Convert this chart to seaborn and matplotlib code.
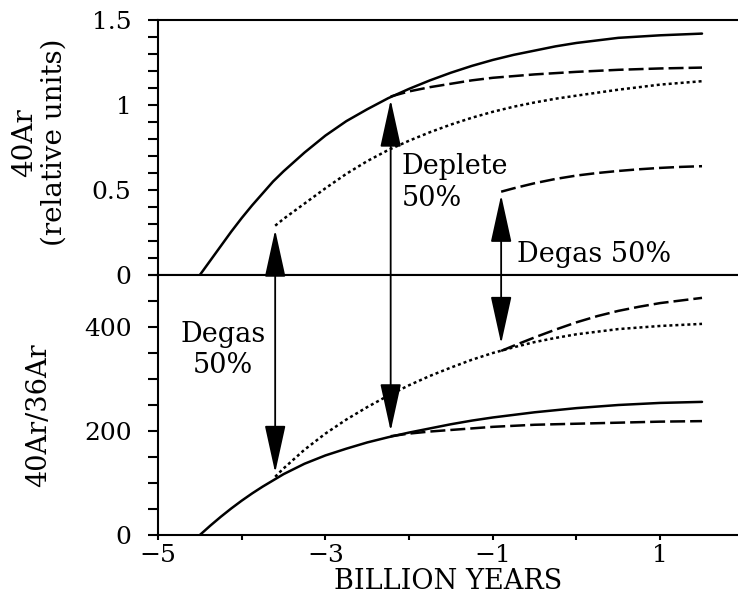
import pandas as pd
import numpy as np
import matplotlib
matplotlib.use('Agg')
import matplotlib.pyplot as plt
import seaborn as sns
from matplotlib.patches import ConnectionPatch
from matplotlib.ticker import MultipleLocator

# ---- data ----
# upper panel: 40Ar (relative units)
yr_solid = [-4.5, -4.375, -4.25, -4.125, -4.0, -3.875, -3.75, -3.625, -3.5, -3.25, -3.0,
            -2.75, -2.5, -2.25, -2.0, -1.75, -1.5, -1.25, -1.0, -0.75, -0.5,
            -0.25, 0.0, 0.5, 1.0, 1.5]
ar_solid = [0.0, 0.085, 0.17, 0.255, 0.335, 0.41, 0.48, 0.55, 0.61, 0.72, 0.82,
            0.905, 0.975, 1.04, 1.095, 1.145, 1.19, 1.23, 1.265, 1.295, 1.32,
            1.345, 1.365, 1.395, 1.41, 1.42]

yr_deplete = [-2.22, -2.0, -1.75, -1.5, -1.25, -1.0, -0.5, 0.0, 0.5, 1.0, 1.5]
ar_deplete = [1.05, 1.08, 1.105, 1.125, 1.145, 1.16, 1.18, 1.195, 1.207, 1.215, 1.22]

yr_degas1 = [-3.6, -3.5, -3.25, -3.0, -2.75, -2.5, -2.25, -2.0, -1.75, -1.5,
             -1.25, -1.0, -0.75, -0.5, -0.25, 0.0, 0.5, 1.0, 1.5]
ar_degas1 = [0.29, 0.33, 0.42, 0.51, 0.595, 0.67, 0.735, 0.79, 0.84, 0.885,
             0.925, 0.96, 0.99, 1.015, 1.037, 1.055, 1.09, 1.12, 1.14]

yr_degas2 = [-0.9, -0.75, -0.5, -0.25, 0.0, 0.25, 0.5, 0.75, 1.0, 1.25, 1.5]
ar_degas2 = [0.49, 0.51, 0.54, 0.565, 0.585, 0.6, 0.612, 0.622, 0.63, 0.636, 0.64]

# lower panel: 40Ar/36Ar
ratio_solid = [0, 18, 35, 51, 66, 80, 93, 105, 117, 137, 153,
               166, 178, 188, 197, 205, 213, 220, 226, 231, 236,
               240, 244, 250, 254, 256]
ratio_deplete = [190, 195, 199, 202, 205, 208, 212, 214, 216, 218, 219]
ratio_degas1 = [112, 128, 164, 195, 222, 246, 268, 288, 306, 322,
                337, 350, 361, 371, 379, 386, 396, 402, 406]
ratio_degas2 = [354, 364, 380, 395, 409, 421, 431, 439, 446, 451, 456]

# events (year, tip in upper panel, tip in lower panel)
event_years = [-3.6, -2.22, -0.9]
event_top = [0.265, 1.03, 0.47]
event_bot = [120, 200, 368]

top = pd.concat([
    pd.DataFrame({'year': yr_solid, 'val': ar_solid, 'case': 'solid'}),
    pd.DataFrame({'year': yr_deplete, 'val': ar_deplete, 'case': 'deplete'}),
    pd.DataFrame({'year': yr_degas1, 'val': ar_degas1, 'case': 'degas1'}),
    pd.DataFrame({'year': yr_degas2, 'val': ar_degas2, 'case': 'degas2'}),
])
bot = pd.concat([
    pd.DataFrame({'year': yr_solid, 'val': ratio_solid, 'case': 'solid'}),
    pd.DataFrame({'year': yr_deplete, 'val': ratio_deplete, 'case': 'deplete'}),
    pd.DataFrame({'year': yr_degas1, 'val': ratio_degas1, 'case': 'degas1'}),
    pd.DataFrame({'year': yr_degas2, 'val': ratio_degas2, 'case': 'degas2'}),
])
dash_map = {'solid': '', 'deplete': (6, 2), 'degas1': (1.2, 1.2), 'degas2': (6, 2)}

sns.set_style('ticks', {'axes.edgecolor': 'black', 'text.color': 'black',
                        'axes.labelcolor': 'black', 'xtick.color': 'black',
                        'ytick.color': 'black'})
plt.rcParams['font.family'] = ['DejaVu Serif']
plt.rcParams['axes.linewidth'] = 1.5

fig = plt.figure(figsize=(7.38, 6.03), dpi=100)
ax1 = fig.add_axes([158 / 738, 1 - 275 / 603, 580 / 738, 255 / 603])
ax2 = fig.add_axes([158 / 738, 1 - 535 / 603, 580 / 738, 260 / 603])

for ax, df in [(ax1, top), (ax2, bot)]:
    sns.lineplot(data=df, x='year', y='val', style='case', dashes=dash_map,
                 color='black', linewidth=1.8, estimator=None, legend=False, ax=ax)
    ax.set_xlim(-5, 1.93)
    ax.set_xticks([-5, -3, -1, 1])
    ax.xaxis.set_minor_locator(MultipleLocator(1))
    ax.spines['right'].set_visible(False)
    ax.tick_params(axis='y', which='both', direction='out', length=7, width=1.5,
                   pad=12, labelsize=18)
    ax.tick_params(axis='x', which='both', direction='out', length=3.5, width=1.5,
                   pad=3, labelsize=18)
    ax.set_xlabel('')

ax1.set_ylim(0, 1.5)
ax1.set_yticks([0, 0.5, 1, 1.5], ['0', '0.5', '1', '1.5'])
ax1.yaxis.set_minor_locator(MultipleLocator(0.1))
ax1.tick_params(axis='x', labelbottom=False)
ax1.set_ylabel('40Ar\n(relative units)', fontsize=20, linespacing=1.1)
ax1.yaxis.set_label_coords(-0.156, 0.52)

ax2.set_ylim(0, 500)
ax2.set_yticks([0, 200, 400])
ax2.yaxis.set_minor_locator(MultipleLocator(50))
ax2.set_ylabel('40Ar/36Ar', fontsize=19.5)
ax2.yaxis.set_label_coords(-0.183, 0.46)
ax2.set_xlabel('BILLION YEARS', fontsize=19.5, labelpad=1)

# double headed arrows crossing both panels
for yr, yt, yb in zip(event_years, event_top, event_bot):
    con = ConnectionPatch(xyA=(yr, yt), coordsA=ax1.transData,
                          xyB=(yr, yb), coordsB=ax2.transData,
                          arrowstyle='<|-|>,head_length=1.5,head_width=0.33',
                          mutation_scale=20, color='black', linewidth=1.3)
    fig.add_artist(con)

ax1.text(-2.085, 0.72, 'Deplete\n50%', fontsize=19.5, ha='left', va='top',
         linespacing=1.25)
ax1.text(-0.71, 0.076, 'Degas 50%', fontsize=19.5, ha='left', va='baseline')
ax2.text(-4.22, 412, 'Degas\n50%', fontsize=19.5, ha='center', va='top',
         multialignment='center', linespacing=1.2)

fig.savefig('out.png', dpi=100, facecolor='white')
